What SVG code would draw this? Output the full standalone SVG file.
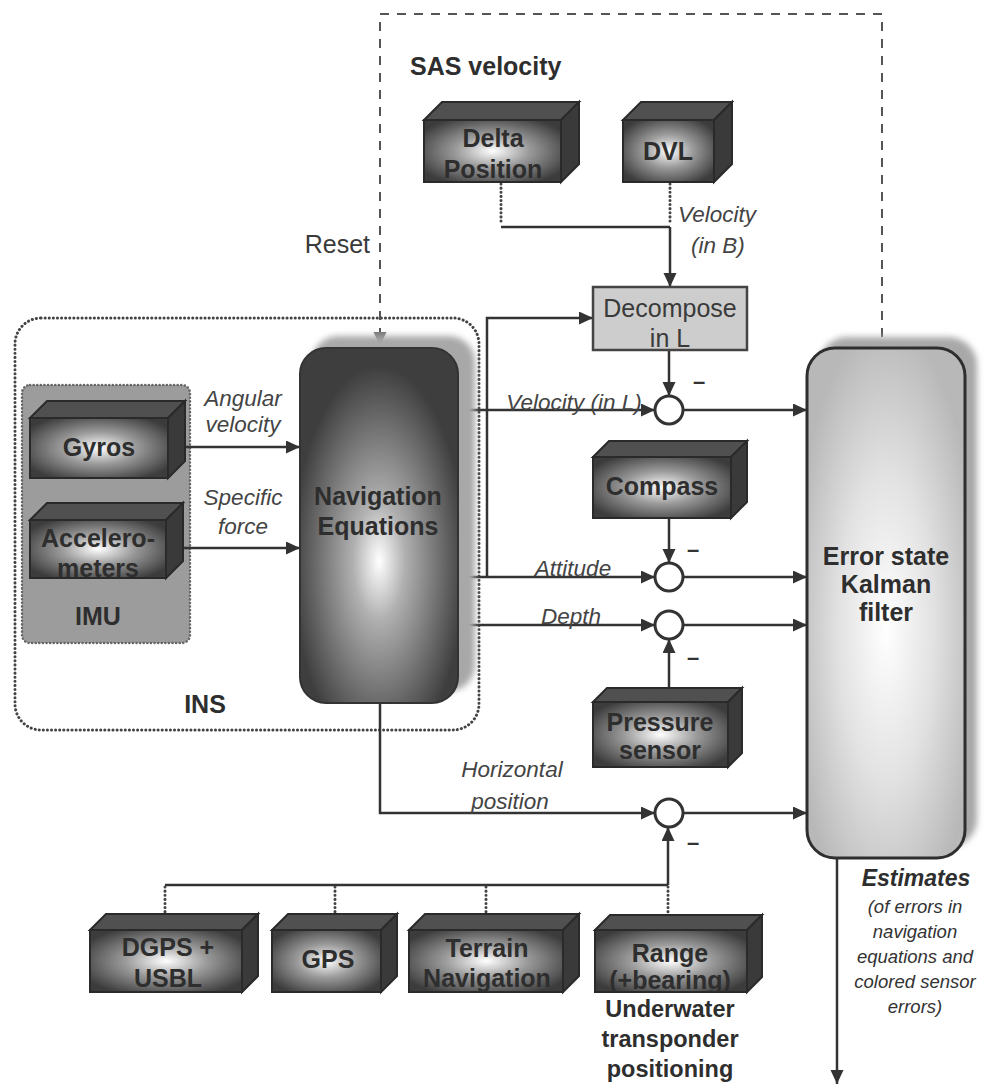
<svg xmlns="http://www.w3.org/2000/svg" width="994" height="1086" viewBox="0 0 994 1086">
<defs>
<style>
.bl{font-family:"Liberation Sans",Arial,sans-serif;font-weight:bold;font-size:25px;fill:#2e2e2e;text-anchor:middle}
.it{font-family:"Liberation Sans",Arial,sans-serif;font-style:italic;font-size:22.5px;fill:#444;text-anchor:middle}
.rg{font-family:"Liberation Sans",Arial,sans-serif;font-size:25px;fill:#3a3a3a;text-anchor:middle}
.sm{font-family:"Liberation Sans",Arial,sans-serif;font-style:italic;font-size:18.5px;fill:#333;text-anchor:middle}
.uw{font-size:23.5px}
.ln{fill:none;stroke:#333;stroke-width:2.5}
.dot{fill:none;stroke:#444;stroke-width:3;stroke-dasharray:0.1 4;stroke-linecap:round}
.dash{fill:none;stroke:#555;stroke-width:2;stroke-dasharray:9 8}
.face{fill:url(#gFace);stroke:#2a2a2a;stroke-width:2}
.top{fill:#505050;stroke:#2a2a2a;stroke-width:2}
.side{fill:#3a3a3a;stroke:#2a2a2a;stroke-width:2}
.sum{fill:#fff;stroke:#333;stroke-width:3}
.minus{font-family:"Liberation Sans",Arial,sans-serif;font-weight:bold;font-size:22px;fill:#333;text-anchor:middle}
</style>
<radialGradient id="gFace" cx="0.5" cy="0.5" r="0.6">
<stop offset="0" stop-color="#ffffff"/>
<stop offset="0.45" stop-color="#9a9a9a"/>
<stop offset="1" stop-color="#3c3c3c"/>
</radialGradient>
<radialGradient id="gNav" cx="0.5" cy="0.6" r="0.55">
<stop offset="0" stop-color="#ffffff"/>
<stop offset="0.3" stop-color="#b0b0b0"/>
<stop offset="1" stop-color="#3e3e3e"/>
</radialGradient>
<radialGradient id="gKal" cx="0.5" cy="0.55" r="0.6">
<stop offset="0" stop-color="#ffffff"/>
<stop offset="0.5" stop-color="#e2e2e2"/>
<stop offset="1" stop-color="#b8b8b8"/>
</radialGradient>
<filter id="blur" x="-10%" y="-10%" width="120%" height="120%"><feGaussianBlur stdDeviation="3"/></filter>
<marker id="ar" markerUnits="userSpaceOnUse" markerWidth="16" markerHeight="14" refX="14" refY="6.5" orient="auto"><path d="M0,0 L14,6.5 L0,13 z" fill="#333"/></marker>
<marker id="arg" markerUnits="userSpaceOnUse" markerWidth="16" markerHeight="14" refX="14" refY="6.5" orient="auto"><path d="M0,0 L14,6.5 L0,13 z" fill="#777"/></marker>
<clipPath id="cAcc"><rect x="30" y="520" width="136" height="58"/></clipPath>
<clipPath id="cDelta"><rect x="424" y="120" width="137" height="62"/></clipPath>
<clipPath id="cDec"><rect x="593" y="287" width="154" height="63"/></clipPath>
<clipPath id="cPres"><rect x="593" y="702" width="135" height="65"/></clipPath>
<clipPath id="cDgps"><rect x="90" y="930" width="152" height="62"/></clipPath>
<clipPath id="cTer"><rect x="409" y="930" width="154" height="62"/></clipPath>
<clipPath id="cRange"><rect x="595" y="930" width="152" height="62"/></clipPath>
</defs>
<rect width="994" height="1086" fill="#ffffff"/>

<g id="ins">
<rect x="15" y="318" width="464" height="412" rx="26" fill="none" class="dot"/>
<text class="bl" x="205" y="713">INS</text>
</g>
<g id="imu">
<rect x="22" y="385" width="168" height="258" rx="8" fill="#9c9c9c" stroke="#666" stroke-width="2.5" stroke-dasharray="0.1 3.5" stroke-linecap="round"/>
<text class="bl" x="98" y="625">IMU</text>
</g>

<g id="sas">
<text class="bl" x="410" y="75" style="text-anchor:start">SAS velocity</text>
</g>

<g id="connectors">
<path class="dash" d="M882,337 V14 H380 V346" marker-end="url(#arg)"/>
<path class="ln" d="M185,447 H300" marker-end="url(#ar)"/>
<path class="ln" d="M183,548 H300" marker-end="url(#ar)"/>
<path class="ln" d="M458,410 H655" marker-end="url(#ar)"/>
<path class="ln" d="M458,577 H655" marker-end="url(#ar)"/>
<path class="ln" d="M458,625 H655" marker-end="url(#ar)"/>
<path class="ln" d="M487,577 V318 H593" marker-end="url(#ar)"/>
<path class="ln" d="M380,703 V813 H655" marker-end="url(#ar)"/>
<path class="ln" d="M683,410 H807" marker-end="url(#ar)"/>
<path class="ln" d="M683,577 H807" marker-end="url(#ar)"/>
<path class="ln" d="M683,625 H807" marker-end="url(#ar)"/>
<path class="ln" d="M683,813 H807" marker-end="url(#ar)"/>
<path class="ln" d="M669,350 V396" marker-end="url(#ar)"/>
<path class="ln" d="M669,518 V563" marker-end="url(#ar)"/>
<path class="ln" d="M669,702 V639" marker-end="url(#ar)"/>
<path class="ln" d="M668,885 V827" marker-end="url(#ar)"/>
<path class="ln" d="M165,885 H668"/>
<path class="dot" d="M165,887 V914 M335,887 V914 M486,887 V914 M668,887 V916"/>
<path class="dot" d="M501,184 V225 M670,184 V225"/>
<path class="ln" d="M501,227 H670"/>
<path class="ln" d="M670,227 V287" marker-end="url(#ar)"/>
<path class="ln" d="M837,858 V1084" marker-end="url(#ar)"/>
<text class="minus" x="699" y="389">–</text>
<text class="minus" x="693" y="557">–</text>
<text class="minus" x="693" y="665">–</text>
<text class="minus" x="693" y="850">–</text>
<text class="rg" x="370" y="253" style="text-anchor:end">Reset</text>
<text class="it" x="678" y="222" style="text-anchor:start">Velocity</text>
<text class="it" x="691" y="253" style="text-anchor:start">(in B)</text>
<text class="it" x="243" y="406">Angular</text>
<text class="it" x="243" y="432">velocity</text>
<text class="it" x="243" y="505">Specific</text>
<text class="it" x="243" y="534">force</text>
<text class="it" x="574" y="410">Velocity (in L)</text>
<text class="it" x="573" y="576">Attitude</text>
<text class="it" x="571" y="624">Depth</text>
<text class="it" x="512" y="777">Horizontal</text>
<text class="it" x="510" y="809">position</text>
<text class="it" x="916" y="886" style="font-weight:bold;fill:#2e2e2e;font-size:23px">Estimates</text>
<text class="sm" x="915" y="913">(of errors in</text>
<text class="sm" x="915" y="938">navigation</text>
<text class="sm" x="915" y="963">equations and</text>
<text class="sm" x="915" y="988">colored sensor</text>
<text class="sm" x="915" y="1013">errors)</text>
</g>

<g id="sums">
<circle class="sum" cx="669" cy="410" r="14"/>
<circle class="sum" cx="669" cy="577" r="14"/>
<circle class="sum" cx="669" cy="625" r="14"/>
<circle class="sum" cx="669" cy="813" r="14"/>
</g>

<g id="nav">
<rect x="312" y="336" width="163" height="355" rx="26" fill="#a8a8a8" filter="url(#blur)"/>
<rect x="300" y="348" width="158" height="355" rx="26" fill="url(#gNav)" stroke="#333" stroke-width="2"/>
<text class="bl" x="378" y="505">Navigation</text>
<text class="bl" x="378" y="535">Equations</text>
</g>

<g id="kalman">
<rect x="819" y="337" width="158" height="510" rx="28" fill="#a8a8a8" filter="url(#blur)"/>
<rect x="807" y="348" width="158" height="510" rx="28" fill="url(#gKal)" stroke="#2e2e2e" stroke-width="3"/>
<text class="bl" x="886" y="565">Error state</text>
<text class="bl" x="886" y="593">Kalman</text>
<text class="bl" x="886" y="621">filter</text>
</g>

<g id="decompose">
<rect x="593" y="287" width="154" height="63" fill="#cdcdcd" stroke="#444" stroke-width="2.5"/>
<g clip-path="url(#cDec)">
<text class="rg" x="670" y="317">Decompose</text>
<text class="rg" x="670" y="347">in L</text>
</g>
</g>

<g id="gyros">
<polygon class="top" points="30,418 47,401 185,401 168,418"/>
<polygon class="side" points="168,418 185,401 185,461 168,478"/>
<rect class="face" x="30" y="418" width="138" height="60"/>
<text class="bl" x="99" y="456">Gyros</text>
</g>
<g id="accel">
<polygon class="top" points="30,520 47,503 183,503 166,520"/>
<polygon class="side" points="166,520 183,503 183,561 166,578"/>
<rect class="face" x="30" y="520" width="136" height="58"/>
<g clip-path="url(#cAcc)">
<text class="bl" x="98" y="547">Accelero-</text>
<text class="bl" x="98" y="577">meters</text>
</g>
</g>

<g id="delta">
<polygon class="top" points="424,120 442,102 579,102 561,120"/>
<polygon class="side" points="561,120 579,102 579,164 561,182"/>
<rect class="face" x="424" y="120" width="137" height="62"/>
<g clip-path="url(#cDelta)">
<text class="bl" x="493" y="147">Delta</text>
<text class="bl" x="493" y="178">Position</text>
</g>
</g>
<g id="dvl">
<polygon class="top" points="623,120 641,102 732,102 714,120"/>
<polygon class="side" points="714,120 732,102 732,164 714,182"/>
<rect class="face" x="623" y="120" width="91" height="62"/>
<text class="bl" x="668" y="160">DVL</text>
</g>

<g id="compass">
<polygon class="top" points="593,457 609,441 747,441 731,457"/>
<polygon class="side" points="731,457 747,441 747,502 731,518"/>
<rect class="face" x="593" y="457" width="138" height="61"/>
<text class="bl" x="662" y="495">Compass</text>
</g>

<g id="pressure">
<polygon class="top" points="593,702 607,688 742,688 728,702"/>
<polygon class="side" points="728,702 742,688 742,753 728,767"/>
<rect class="face" x="593" y="702" width="135" height="65"/>
<g clip-path="url(#cPres)">
<text class="bl" x="660" y="731">Pressure</text>
<text class="bl" x="660" y="759">sensor</text>
</g>
</g>

<g id="dgps">
<polygon class="top" points="90,930 106,914 258,914 242,930"/>
<polygon class="side" points="242,930 258,914 258,976 242,992"/>
<rect class="face" x="90" y="930" width="152" height="62"/>
<g clip-path="url(#cDgps)">
<text class="bl" x="168" y="956">DGPS +</text>
<text class="bl" x="168" y="987">USBL</text>
</g>
</g>
<g id="gps">
<polygon class="top" points="272,930 288,914 397,914 381,930"/>
<polygon class="side" points="381,930 397,914 397,976 381,992"/>
<rect class="face" x="272" y="930" width="109" height="62"/>
<text class="bl" x="328" y="968">GPS</text>
</g>
<g id="terrain">
<polygon class="top" points="409,930 425,914 579,914 563,930"/>
<polygon class="side" points="563,930 579,914 579,976 563,992"/>
<rect class="face" x="409" y="930" width="154" height="62"/>
<g clip-path="url(#cTer)">
<text class="bl" x="487" y="957">Terrain</text>
<text class="bl" x="487" y="987">Navigation</text>
</g>
</g>
<g id="range">
<polygon class="top" points="595,930 610,915 762,915 747,930"/>
<polygon class="side" points="747,930 762,915 762,977 747,992"/>
<rect class="face" x="595" y="930" width="152" height="62"/>
<g clip-path="url(#cRange)">
<text class="bl" x="670" y="962">Range</text>
<text class="bl" x="670" y="989">(+bearing)</text>
</g>
</g>
<g id="underwater">
<text class="bl uw" x="670" y="1017">Underwater</text>
<text class="bl uw" x="670" y="1047">transponder</text>
<text class="bl uw" x="670" y="1077">positioning</text>
</g>
</svg>
